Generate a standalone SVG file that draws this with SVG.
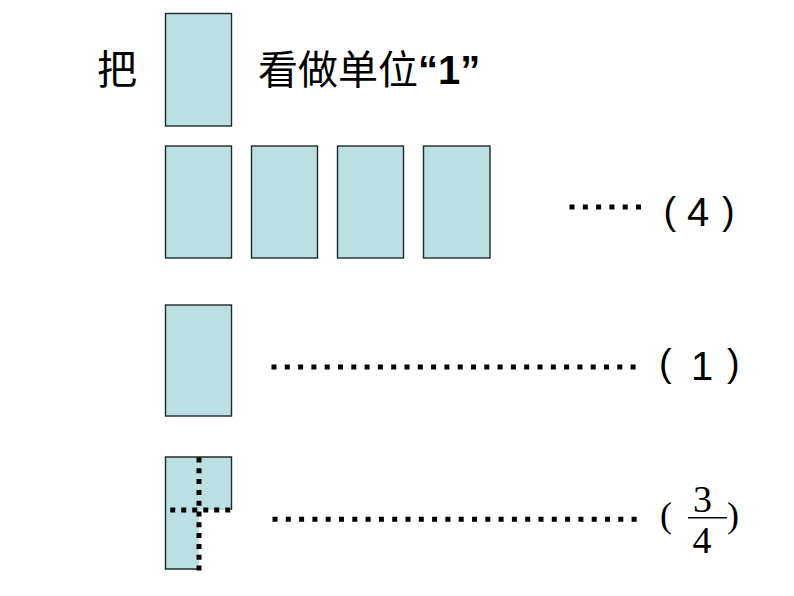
<svg xmlns="http://www.w3.org/2000/svg" width="794" height="596" viewBox="0 0 794 596">
<style>
.box{fill:#bce0e2;stroke:#1c2b2b;stroke-width:1.4}
.fill{fill:#bce0e2;stroke:none}
.edge{fill:none;stroke:#1c2b2b;stroke-width:1.4}
.dots{fill:none;stroke:#000;stroke-width:5}
.lead{stroke-dasharray:5 8.3}
.cut{stroke-dasharray:5 5.8}
.cjk{font-family:"Liberation Sans","Noto Sans CJK SC",sans-serif;font-size:40px;fill:#000}
.sans{font-family:"Liberation Sans",Arial,sans-serif;fill:#000}
.serif{font-family:"Liberation Serif","Times New Roman",serif;fill:#000}
</style>
<rect width="794" height="596" fill="#fff"/>
<g id="title">
<text class="cjk" x="97" y="84">把</text>
<rect id="unit" class="box" x="165.5" y="13.5" width="66" height="112.5"/>
<text class="cjk" x="258" y="84">看做单位<tspan font-weight="bold">“1”</tspan></text>
</g>
<g id="row-four">
<rect class="box" x="165.5" y="146" width="66" height="112"/>
<rect class="box" x="251.5" y="146" width="66" height="112"/>
<rect class="box" x="337.5" y="146" width="66" height="112"/>
<rect class="box" x="423.5" y="146" width="66.5" height="112"/>
<text class="sans" font-size="38" x="663.5" y="224">(</text>
<text class="sans" font-size="40" x="698" y="226" text-anchor="middle">4</text>
<text class="sans" font-size="38" x="722" y="224">)</text>
</g>
<g id="row-one">
<rect class="box" x="165.5" y="305" width="66" height="111"/>
<text class="sans" font-size="38" x="659" y="376">(</text>
<text class="sans" font-size="40" x="702" y="380" text-anchor="middle">1</text>
<text class="sans" font-size="38" x="727" y="376">)</text>
</g>
<g id="row-three-quarters">
<rect class="fill" x="165.5" y="457" width="66" height="53"/>
<rect class="fill" x="165.5" y="510" width="33.5" height="59"/>
<path class="edge" d="M197,569 H165.5 V457 H231.5 V510"/>
<line class="dots cut" x1="199" y1="457.5" x2="199" y2="571"/>
<line class="dots" x1="170.25" y1="510" x2="230.5" y2="510" stroke-dasharray="5 6"/>
<text class="serif" font-size="36" x="660" y="527">(</text>
<text class="serif" font-size="38" x="702.5" y="512" text-anchor="middle">3</text>
<line x1="688" y1="517.7" x2="727" y2="517.7" stroke="#000" stroke-width="1.6"/>
<text class="serif" font-size="38" x="702" y="553" text-anchor="middle">4</text>
<text class="serif" font-size="36" x="727" y="527">)</text>
</g>
<g id="connectors">
<line class="dots lead" x1="569.5" y1="207" x2="642" y2="207"/>
<line class="dots lead" x1="271.5" y1="367" x2="636" y2="367"/>
<line class="dots lead" x1="272.5" y1="519.3" x2="637" y2="519.3"/>
</g>
</svg>
